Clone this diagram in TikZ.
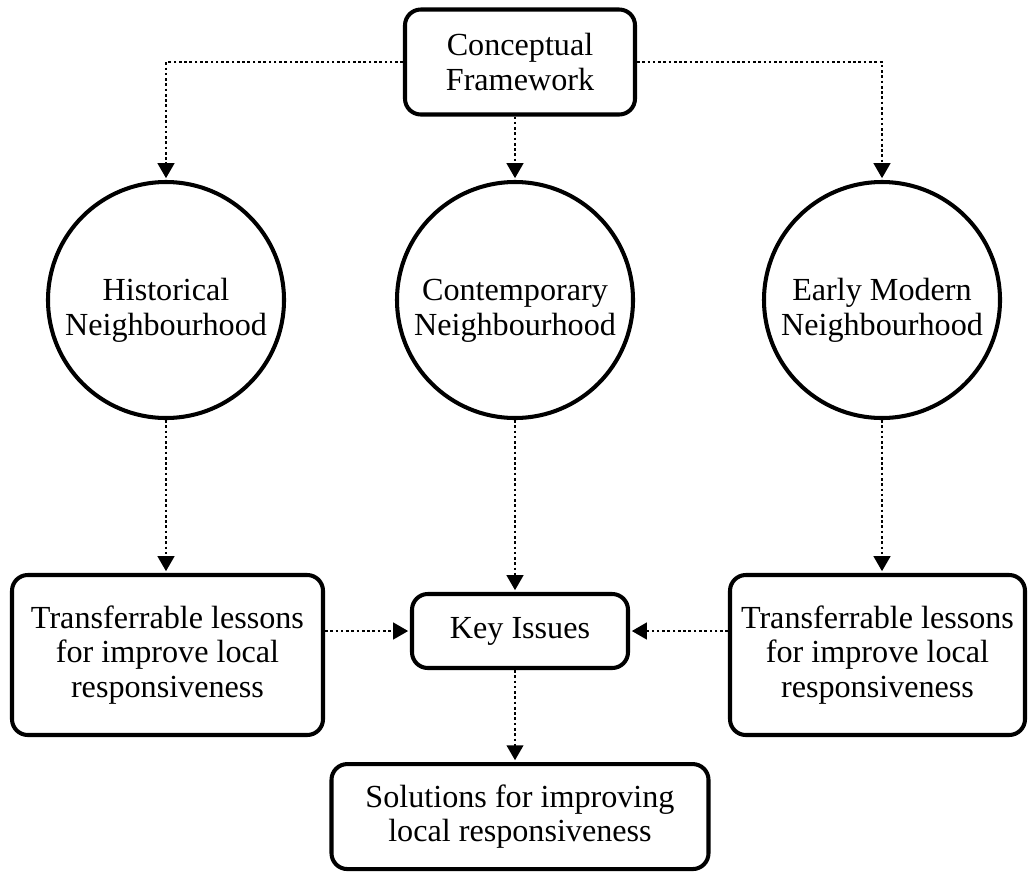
\documentclass[tikz,border=0pt]{standalone}
\usepackage{fontspec}
\setmainfont{Liberation Serif}
\usepackage{tikz}
\usetikzlibrary{arrows.meta, positioning, calc}

% taller first line, so the circle texts sit a little low
\newcommand{\lowtext}{\rule{0pt}{0.86cm}}

\begin{document}
\begin{tikzpicture}[
  box/.style    = {rectangle, rounded corners=9pt, draw=black, line width=2.3pt,
                   align=center, font=\fontsize{18.3}{19.4}\selectfont,
                   inner sep=0pt},
  hood/.style   = {circle, draw=black, line width=2.3pt, minimum size=4.72cm,
                   align=center, font=\fontsize{18.3}{19.4}\selectfont,
                   inner sep=0pt},
  arr/.style    = {-{Triangle[length=0.3cm, width=0.33cm]}, line width=1.5pt,
                   dash pattern=on 1.5pt off 1.5pt, shorten >=1pt},
]
\useasboundingbox (0,0) rectangle (20.64,-17.46);

%% --- top ---
\node[box, minimum width=4.6cm, minimum height=2.1cm] (frame) at (10.4,-1.24)
  {Conceptual\\Framework};

%% --- neighbourhoods ---
\node[hood] (hist)  at (3.32,-6.0)  {\lowtext Historical\\Neighbourhood};
\node[hood] (cont)  at (10.3,-6.0)  {\lowtext Contemporary\\Neighbourhood};
\node[hood] (early) at (17.64,-6.0) {\lowtext Early Modern\\Neighbourhood};

%% --- lessons and issues ---
\node[box, minimum width=6.22cm, minimum height=3.2cm] (lessL) at (3.35,-13.1)
  {Transferrable lessons\\for improve local\\responsiveness};
\node[box, minimum width=5.9cm, minimum height=3.2cm] (lessR) at (17.55,-13.1)
  {Transferrable lessons\\for improve local\\responsiveness};
\node[box, minimum width=4.32cm, minimum height=1.48cm] (issues) at (10.4,-12.62)
  {Key Issues};
\node[box, minimum width=7.54cm, minimum height=2.1cm, below=1.84cm of issues] (sol)
  {Solutions for improving\\local responsiveness};

%% --- arrows ---
\draw[arr] (frame.west) -| (hist.north);
\draw[arr] (frame.east) -| (early.north);
\draw[arr] (frame.south -| cont.north) -- (cont.north);
\draw[arr] (hist.south)  -- (lessL.north -| hist.south);
\draw[arr] (early.south) -- (lessR.north -| early.south);
\draw[arr] (cont.south)  -- (issues.north -| cont.south);
\draw[arr] (lessL.east |- issues.west) -- (issues.west);
\draw[arr] (lessR.west |- issues.east) -- (issues.east);
\draw[arr] (issues.south -| cont.south) -- (sol.north -| cont.south);

\end{tikzpicture}
\end{document}
